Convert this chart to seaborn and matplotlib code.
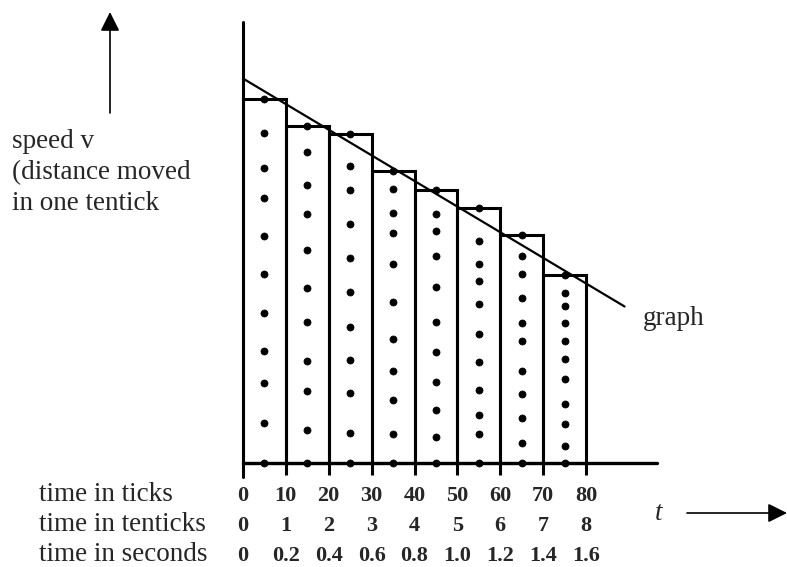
import pandas as pd
import matplotlib
matplotlib.use('Agg')
import matplotlib.pyplot as plt
import seaborn as sns

# ticker tape strips, one per tentick (10 ticks each)
strip_start = [0, 10, 20, 30, 40, 50, 60, 70]
strip_len = [36.4, 33.7, 32.9, 29.2, 27.3, 25.5, 22.8, 18.8]

# dots printed on each strip, read top to bottom
dots_1 = [36.4, 33.0, 29.5, 26.5, 22.7, 18.9, 15.0, 11.2, 8.0, 4.0, 0]
dots_2 = [33.7, 31.1, 27.8, 24.9, 21.3, 17.5, 14.1, 10.2, 7.2, 3.3, 0]
dots_3 = [32.9, 29.7, 27.3, 23.9, 20.5, 17.1, 13.6, 10.3, 7.0, 3.0, 0]
dots_4 = [29.2, 27.4, 25.0, 23.0, 19.9, 16.1, 12.4, 9.2, 6.3, 2.9, 0]
dots_5 = [27.3, 24.9, 23.2, 20.7, 17.6, 14.1, 11.1, 8.1, 5.3, 2.6, 0]
dots_6 = [25.5, 22.2, 19.9, 18.2, 15.9, 12.9, 10.1, 7.3, 4.8, 2.9, 0]
dots_7 = [22.8, 20.7, 18.9, 16.5, 14.0, 12.2, 9.2, 6.9, 4.5, 2.0, 0]
dots_8 = [18.8, 17.0, 15.7, 14.0, 12.2, 10.4, 8.4, 5.9, 3.9, 1.7, 0]
all_dots = [dots_1, dots_2, dots_3, dots_4, dots_5, dots_6, dots_7, dots_8]

# straight line drawn through the tops
graph_t = [0, 89]
graph_v = [38.4, 15.6]

tick_pos = [0, 10, 20, 30, 40, 50, 60, 70, 80]
ticks_labels = ['0', '10', '20', '30', '40', '50', '60', '70', '80']
tenticks_labels = ['0', '1', '2', '3', '4', '5', '6', '7', '8']
seconds_labels = ['0', '0.2', '0.4', '0.6', '0.8', '1.0', '1.2', '1.4', '1.6']
row_names = ['time in ticks', 'time in tenticks', 'time in seconds']

sns.set_theme(style='white')
plt.rcParams['font.family'] = ['Liberation Serif', 'DejaVu Serif']

fig = plt.figure(figsize=(7.87, 5.67), dpi=100)
ax = fig.add_axes([0, 0, 1, 1])

# pixel layout: x_px = X0 + SX*t , y_px = Y0 - SY*v
X0, SX, Y0, SY = 243, 4.2875, 462.5, 10.0
ax.set_xlim(-X0 / SX, (787 - X0) / SX)
ax.set_ylim((Y0 - 567) / SY, Y0 / SY)
ax.axis('off')


def px(x, y):
    return (x - X0) / SX, (Y0 - y) / SY


# strips
ax.bar(strip_start, strip_len, width=10, align='edge', fill=False,
       edgecolor='black', linewidth=2.2, zorder=2)
ax.vlines(strip_start[1:] + [80], -1.2, 0, color='black', lw=2.2)

# dots
rows = []
for s, d in zip(strip_start, all_dots):
    for v in d:
        rows.append({'t': s + 5, 'v': v})
df = pd.DataFrame(rows)
sns.scatterplot(data=df, x='t', y='v', ax=ax, color='black', s=26,
                edgecolor='black', linewidth=0.5, zorder=3, legend=False)

# graph line
sns.lineplot(x=graph_t, y=graph_v, ax=ax, color='black', lw=1.6, zorder=4)

# axes
ax.plot([0, 0], [px(0, 477)[1], px(0, 22)[1]], color='black', lw=2.2)
ax.plot([0, px(657, 0)[0]], [0, 0], color='black', lw=2.4)

# arrows
arr = dict(arrowstyle='-|>', color='black', lw=1.2, mutation_scale=29,
           shrinkA=0, shrinkB=0)
ax.annotate('', xy=px(110, 12), xytext=px(110, 113), arrowprops=arr)
ax.annotate('', xy=px(787, 513), xytext=px(687, 513), arrowprops=arr)

# texts
big = 19.5
for i, line in enumerate(['speed v', '(distance moved', 'in one tentick']):
    ax.text(*px(12, 148 + 31 * i), line, fontsize=big, va='baseline')
ax.text(*px(643, 325), 'graph', fontsize=big, va='baseline')
ax.text(*px(655, 520), 't', fontsize=big, style='italic', va='baseline')

for i, (name, labels) in enumerate(zip(row_names, [ticks_labels, tenticks_labels, seconds_labels])):
    yb = 501 + 30 * i
    ax.text(*px(39, yb), name, fontsize=big, va='baseline')
    for t, lab in zip(tick_pos, labels):
        ax.text(t, px(0, yb)[1], lab, fontsize=16, fontweight='bold',
                ha='center', va='baseline')

fig.savefig('out.png', dpi=100)
